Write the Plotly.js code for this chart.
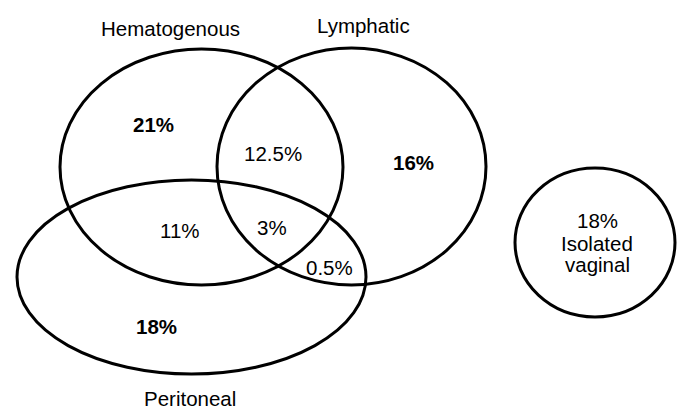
<!DOCTYPE html>
<html>
<head>
<meta charset="utf-8">
<script src="https://cdn.plot.ly/plotly-3.0.1.min.js"></script>
<style>html,body{margin:0;padding:0;background:#fff;}#chart{width:683px;height:414px;}</style>
</head>
<body>
<div id="chart"></div>
<script>
// Sets (names) and region shares (%)
const setNames = ["Hematogenous", "Lymphatic", "Peritoneal", "Isolated vaginal"];
const regionNames = ["Hematogenous only", "Hematogenous+Lymphatic", "Lymphatic only",
  "Hematogenous+Peritoneal", "All three", "Lymphatic+Peritoneal", "Peritoneal only", "Isolated vaginal"];
const regionValues = [21, 12.5, 16, 11, 3, 0.5, 18, 18];
const regionBold = [true, false, true, false, false, false, true, false];

// Layout geometry (pixel-like axis units)
const ellipseCx = [201.5, 351.5, 191.5, 595];
const ellipseCy = [167, 166.5, 277, 242.5];
const ellipseRx = [141.5, 134.5, 174.5, 80];
const ellipseRy = [118, 118.5, 97, 74.5];
const setLabelX = [170, 363, 190, 597];
const setLabelY = [28, 25, 398, 243];
const regionX = [153, 273, 413, 180, 272, 329, 156, 597];
const regionY = [124, 153, 162, 230, 227, 267, 326, 220];

const FONT = "Liberation Sans, Arial, Helvetica, sans-serif";
const FS = 20.5;

const shapes = ellipseCx.map((cx, i) => ({
  type: "circle", xref: "x", yref: "y",
  x0: cx - ellipseRx[i], x1: cx + ellipseRx[i],
  y0: ellipseCy[i] - ellipseRy[i], y1: ellipseCy[i] + ellipseRy[i],
  line: {color: "#000", width: 3}, fillcolor: "rgba(0,0,0,0)"
}));

const annotations = [];
for (let i = 0; i < 3; i++) {
  annotations.push({x: setLabelX[i], y: setLabelY[i], xref: "x", yref: "y", text: setNames[i],
    showarrow: false, font: {family: FONT, size: FS, color: "#000"}});
}
// Isolated vaginal name on two tight lines
setNames[3].split(" ").forEach((w, j) => {
  annotations.push({x: setLabelX[3], y: setLabelY[3] + j * 21.5, xref: "x", yref: "y", text: w,
    showarrow: false, font: {family: FONT, size: FS, color: "#000"}});
});
regionValues.forEach((v, i) => {
  let t = v + "%";
  if (regionBold[i]) t = "<b>" + t + "</b>";
  annotations.push({x: regionX[i], y: regionY[i], xref: "x", yref: "y", text: t,
    showarrow: false, font: {family: FONT, size: FS, color: "#000"}});
});

const layout = {
  width: 683, height: 414,
  margin: {l: 0, r: 0, t: 0, b: 0},
  paper_bgcolor: "#fff", plot_bgcolor: "#fff",
  xaxis: {range: [0, 683], visible: false, fixedrange: true},
  yaxis: {range: [414, 0], visible: false, fixedrange: true},
  showlegend: false,
  shapes: shapes,
  annotations: annotations
};
Plotly.newPlot("chart", [{x: [], y: [], type: "scatter", hoverinfo: "skip"}], layout, {displayModeBar: false, staticPlot: true});
</script>
</body>
</html>
